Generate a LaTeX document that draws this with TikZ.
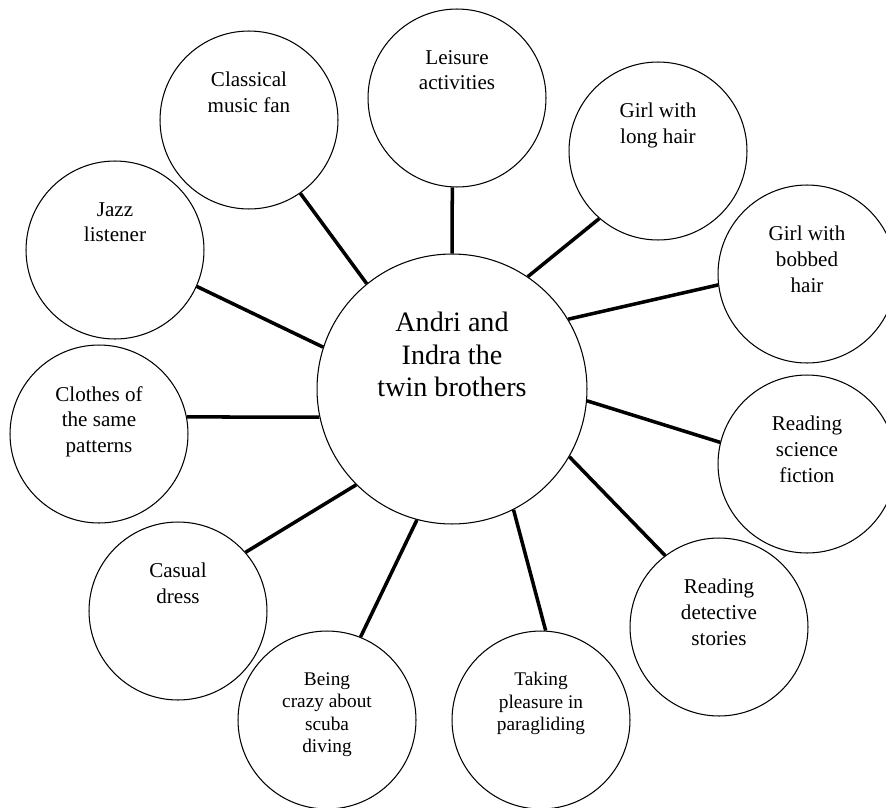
\documentclass[tikz,border=0pt]{standalone}
\usepackage{fontspec}
\setmainfont{Liberation Serif}

\tikzset{
  bubble/.style={draw, circle, line width=0.6pt, minimum size=3.56cm, inner sep=0pt},
  hub/.style={draw, circle, line width=0.6pt, minimum size=5.4cm, inner sep=0pt},
  bubtext/.style={anchor=north, align=center, inner sep=0pt, font=\fontsize{12}{14.6}\selectfont},
  smalltext/.style={bubtext, font=\fontsize{11}{12.8}\selectfont},
  hubtext/.style={anchor=north, align=center, inner sep=0pt, font=\fontsize{16}{18.3}\selectfont},
  spoke/.style={line width=2pt}
}

\begin{document}
\begin{tikzpicture}[x=0.02cm, y=-0.02cm]
    % Fix the page to the picture size
    \useasboundingbox (0,0) rectangle (886,808);

    % Draw the central circle
    \node[hub] (twins) at (452,389) {};
    \node[hubtext] at ([yshift=1.54cm]twins.center) {Andri and\\Indra the\\twin brothers};

    % Draw the outer circles
    \node[bubble] (leisure) at (457,98) {};
    \node[bubble] (classical) at (249,120) {};
    \node[bubble] (longhair) at (658,151) {};
    \node[bubble] (jazz) at (115,250) {};
    \node[bubble] (bobbed) at (807,274) {};
    \node[bubble] (clothes) at (99,434) {};
    \node[bubble] (scifi) at (807,464) {};
    \node[bubble] (casual) at (178,611) {};
    \node[bubble] (detective) at (719,627) {};
    \node[bubble] (scuba) at (327,720) {};
    \node[bubble] (glide) at (541,720) {};

    % Texts sit in the upper part of each circle
    \node[bubtext] at ([yshift=0.96cm]leisure.center) {Leisure\\activities};
    \node[bubtext] at ([yshift=0.96cm]classical.center) {Classical\\music fan};
    \node[bubtext] at ([yshift=0.96cm]longhair.center) {Girl with\\long hair};
    \node[bubtext] at ([yshift=0.96cm]jazz.center) {Jazz\\listener};
    \node[bubtext] at ([yshift=0.96cm]bobbed.center) {Girl with\\bobbed\\hair};
    \node[bubtext] at ([yshift=0.96cm]clothes.center) {Clothes of\\the same\\patterns};
    \node[bubtext] at ([yshift=0.96cm]scifi.center) {Reading\\science\\fiction};
    \node[bubtext] at ([yshift=0.96cm]casual.center) {Casual\\dress};
    \node[bubtext] at ([yshift=0.96cm]detective.center) {Reading\\detective\\stories};
    \node[smalltext] at ([yshift=0.96cm]scuba.center) {Being\\crazy about\\scuba\\diving};
    \node[smalltext] at ([yshift=0.96cm]glide.center) {Taking\\pleasure in\\paragliding};

    % Draw the spokes
    \draw[spoke] (twins.90) -- (leisure.-93);
    \draw[spoke] (twins.129) -- (classical.-55);
    \draw[spoke] (twins.56) -- (longhair.-131);
    \draw[spoke] (twins.162) -- (jazz.-24);
    \draw[spoke] (twins.31) -- (bobbed.187);
    \draw[spoke] (twins.192) -- (clothes.11);
    \draw[spoke] (twins.-5) -- (scifi.166);
    \draw[spoke] (twins.-135) -- (casual.41);
    \draw[spoke] (twins.-30) -- (detective.127);
    \draw[spoke] (twins.-105) -- (scuba.68);
    \draw[spoke] (twins.-63) -- (glide.87);

\end{tikzpicture}
\end{document}
